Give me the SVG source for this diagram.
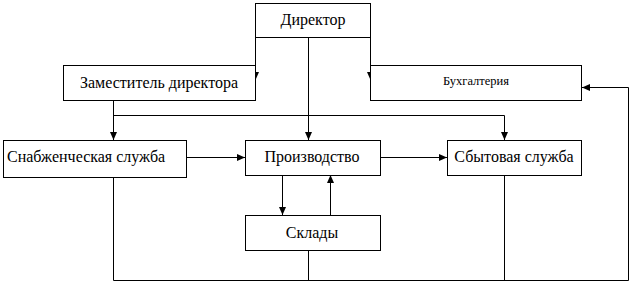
<svg xmlns="http://www.w3.org/2000/svg" width="630" height="283" viewBox="0 0 630 283">
<style>
.box{fill:#fff;stroke:#000;stroke-width:1}
.ln{fill:none;stroke:#000;stroke-width:1}
.t{font-family:"Liberation Serif","Times New Roman",serif;font-size:16px;fill:#000}
.s{font-size:12.5px}
</style>
<defs>
<marker id="ah" markerUnits="userSpaceOnUse" markerWidth="8" markerHeight="7" refX="8" refY="3.5" orient="auto" viewBox="0 0 8 7">
<path d="M0,0 L8,3.5 L0,7 z" fill="#000"/>
</marker>
</defs>
<rect width="630" height="283" fill="#fff"/>
<g id="connectors">
<path class="ln" d="M255.5,37 V80" marker-end="url(#ah)"/>
<path class="ln" d="M370.5,37 V80" marker-end="url(#ah)"/>
<path class="ln" d="M308.5,37 V140" marker-end="url(#ah)"/>
<path class="ln" d="M113.5,100 V140" marker-end="url(#ah)"/>
<path class="ln" d="M113.5,115.5 H504.5 V140" marker-end="url(#ah)"/>
<path class="ln" d="M186,157.5 H245" marker-end="url(#ah)"/>
<path class="ln" d="M380,157.5 H447" marker-end="url(#ah)"/>
<path class="ln" d="M282.5,175 V215" marker-end="url(#ah)"/>
<path class="ln" d="M330.5,215 V175" marker-end="url(#ah)"/>
<path class="ln" d="M113.5,178 V280.5 H628.5 V87.5 H582" marker-end="url(#ah)"/>
<path class="ln" d="M308.5,251 V280.5"/>
<path class="ln" d="M504.5,175 V280.5"/>
</g>
<g id="director">
<rect class="box" x="255.5" y="3.5" width="115" height="34"/>
<text class="t" x="313" y="25" text-anchor="middle">Директор</text>
</g>
<g id="deputy">
<rect class="box" x="63.5" y="65.5" width="192" height="35"/>
<text class="t" x="159" y="88" text-anchor="middle">Заместитель директора</text>
</g>
<g id="accounting">
<rect class="box" x="370.5" y="65.5" width="211" height="35"/>
<text class="t s" x="476" y="85" text-anchor="middle">Бухгалтерия</text>
</g>
<g id="supply">
<rect class="box" x="3.5" y="140.5" width="183" height="37"/>
<text class="t" x="7" y="162">Снабженческая служба</text>
</g>
<g id="production">
<rect class="box" x="245.5" y="140.5" width="135" height="35"/>
<text class="t" x="312" y="162" text-anchor="middle">Производство</text>
</g>
<g id="sales">
<rect class="box" x="447.5" y="140.5" width="134" height="35"/>
<text class="t" x="514" y="162" text-anchor="middle">Сбытовая служба</text>
</g>
<g id="warehouses">
<rect class="box" x="245.5" y="215.5" width="135" height="35"/>
<text class="t" x="312" y="238" text-anchor="middle">Склады</text>
</g>
</svg>
